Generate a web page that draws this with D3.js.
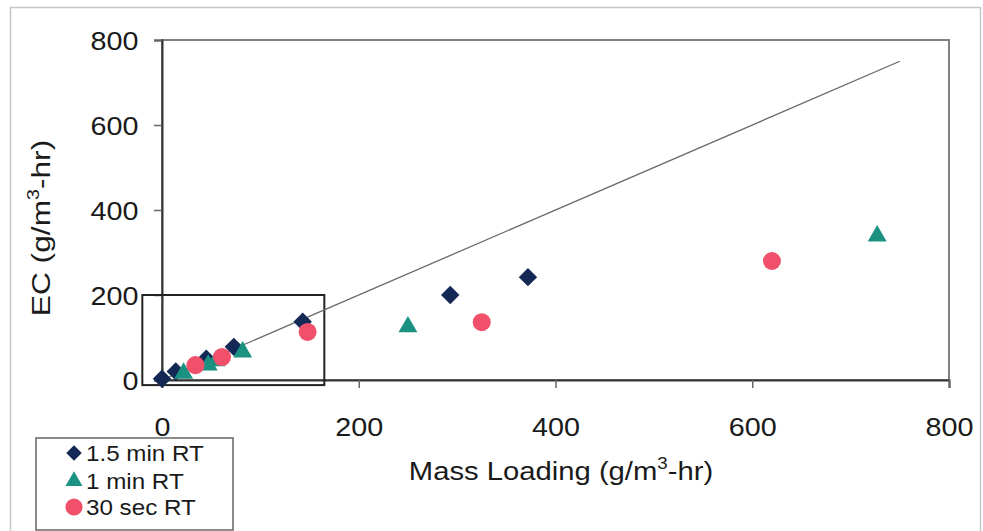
<!DOCTYPE html>
<html>
<head>
<meta charset="utf-8">
<script src="https://cdn.jsdelivr.net/npm/d3@7"></script>
<style>
  html, body { margin: 0; padding: 0; background: #fff; }
  svg { display: block; font-family: "Liberation Sans", Arial, sans-serif; }
</style>
</head>
<body>
<svg id="chart" width="983" height="531"></svg>
<script>
// ---- data ----
const seriesNames = ["1.5 min RT", "1 min RT", "30 sec RT"];
const rt15x = [0, 14, 45, 73, 143, 293, 372];
const rt15y = [3, 20, 50, 78, 137, 200, 242];
const rt1x = [22, 47, 55, 82, 250, 727];
const rt1y = [16, 35, 45, 66, 125, 339];
const rt30x = [34, 61, 148, 325, 620];
const rt30y = [35, 54, 113, 136, 280];
const lineX = [0, 750];
const lineY = [0, 750];
const insetX = [-20, 165];
const insetY = [-12, 200];
const xTicks = [0, 200, 400, 600, 800];
const yTicks = [0, 200, 400, 600, 800];

const svg = d3.select("#chart");
const x = d3.scaleLinear().domain([0, 800]).range([162, 949]);
const y = d3.scaleLinear().domain([0, 800]).range([380, 40]);

// outer border
svg.append("rect").attr("x", 10.5).attr("y", 7.5).attr("width", 970).attr("height", 540)
  .attr("fill", "none").attr("stroke", "#c4c8c8").attr("stroke-width", 1.5);

// plot frame
svg.append("rect").attr("x", x(0)).attr("y", y(800)).attr("width", x(800) - x(0)).attr("height", y(0) - y(800))
  .attr("fill", "none").attr("stroke", "#808080").attr("stroke-width", 2);

// axes
const xAxis = d3.axisBottom(x).tickValues(xTicks).tickSize(8).tickFormat(d3.format("d"));
const yAxis = d3.axisLeft(y).tickValues(yTicks).tickSize(8).tickPadding(12).tickFormat(d3.format("d"));
const gx = svg.append("g").attr("transform", `translate(0,${y(0)})`).call(xAxis);
const gy = svg.append("g").attr("transform", `translate(${x(0)},0)`).call(yAxis);
[gx, gy].forEach(g => {
  g.select(".domain").attr("stroke", "#333").attr("stroke-width", 2);
  g.selectAll(".tick line").attr("stroke", "#666").attr("stroke-width", 1.5);
  g.selectAll(".tick text").attr("fill", "#1a1a1a").style("font-size", "25px")
   .style("font-family", "'Liberation Sans', Arial, sans-serif")
   .attr("transform", "scale(1.15,1)");
});
gx.selectAll(".tick text").attr("y", 56).attr("dy", 0);
gy.selectAll(".tick text").attr("x", -12 / 1.15 - 10).attr("dy", "0.36em");

// inset rectangle
svg.append("rect")
  .attr("x", x(insetX[0])).attr("y", y(insetY[1]))
  .attr("width", x(insetX[1]) - x(insetX[0])).attr("height", y(insetY[0]) - y(insetY[1]))
  .attr("fill", "none").attr("stroke", "#222").attr("stroke-width", 2);

// 1:1 line
svg.append("line")
  .attr("x1", x(lineX[0])).attr("y1", y(lineY[0]))
  .attr("x2", x(lineX[1])).attr("y2", y(lineY[1]))
  .attr("stroke", "#6a6a6a").attr("stroke-width", 1.3);

// markers
const colors = ["#142855", "#1b9182", "#f0506a"];
const diamond = d3.symbol().type(d3.symbolSquare).size(170)();
const triangle = d3.symbol().type(d3.symbolTriangle).size(155)();
const circle = d3.symbol().type(d3.symbolCircle).size(255)();

function drawSeries(xs, ys, path, color, rot) {
  svg.append("g").selectAll("path").data(xs.map((v, i) => [v, ys[i]])).join("path")
    .attr("d", path)
    .attr("transform", d => `translate(${x(d[0])},${y(d[1])}) rotate(${rot})`)
    .attr("fill", color);
}
drawSeries(rt15x, rt15y, diamond, colors[0], 45);
drawSeries(rt1x, rt1y, triangle, colors[1], 0);
drawSeries(rt30x, rt30y, circle, colors[2], 0);

// axis titles
const xt = svg.append("g").attr("transform", "translate(561,480) scale(1.17,1)")
  .append("text").attr("text-anchor", "middle")
  .style("font-size", "25px").attr("fill", "#1a1a1a");
xt.append("tspan").text("Mass Loading (g/m");
xt.append("tspan").text("3").attr("dy", -11).style("font-size", "16px");
xt.append("tspan").text("-hr)").attr("dy", 11);

const yt = svg.append("g").attr("transform", "translate(50,228) rotate(-90) scale(1.22,1)")
  .append("text").attr("text-anchor", "middle")
  .style("font-size", "26px").attr("fill", "#1a1a1a");
yt.append("tspan").text("EC (g/m");
yt.append("tspan").text("3").attr("dy", -11).style("font-size", "16px");
yt.append("tspan").text("-hr)").attr("dy", 11);

// legend
svg.append("rect").attr("x", 36).attr("y", 438).attr("width", 197).attr("height", 92)
  .attr("fill", "#fff").attr("stroke", "#666").attr("stroke-width", 1.5);
const legPaths = [
  d3.symbol().type(d3.symbolSquare).size(120)(),
  d3.symbol().type(d3.symbolTriangle).size(125)(),
  d3.symbol().type(d3.symbolCircle).size(230)()
];
const legY = [453, 481, 507];
seriesNames.forEach((name, i) => {
  svg.append("path").attr("d", legPaths[i])
    .attr("transform", `translate(74,${legY[i]}) rotate(${i === 0 ? 45 : 0})`)
    .attr("fill", colors[i]);
  svg.append("g").attr("transform", `translate(86,${legY[i]}) scale(1.1,1)`)
    .append("text").attr("dy", "0.36em")
    .style("font-size", "22px").attr("fill", "#1a1a1a").text(name);
});
</script>
</body>
</html>
